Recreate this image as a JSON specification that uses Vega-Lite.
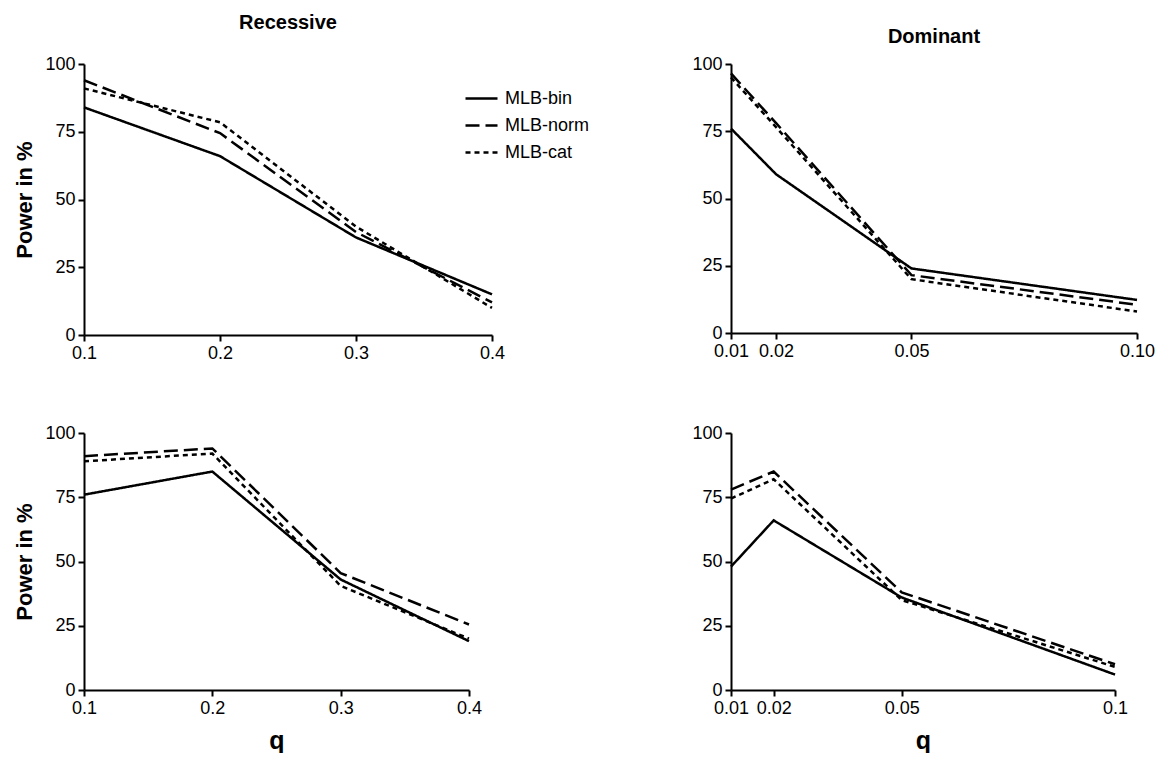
{
  "$schema": "https://vega.github.io/schema/vega-lite/v6.json",
  "background": "white",
  "padding": {"left": 13, "top": 13, "right": 0, "bottom": 0},
  "config": {
    "font": "Liberation Sans",
    "view": {"stroke": null},
    "axis": {
      "grid": false,
      "domainColor": "black",
      "domainWidth": 2,
      "tickColor": "black",
      "tickWidth": 2,
      "tickSize": 6,
      "labelColor": "black",
      "labelFont": "Liberation Sans",
      "labelFontSize": 18,
      "labelPadding": 3,
      "labelOverlap": false,
      "labelFlush": false,
      "titleColor": "black",
      "titleFont": "Liberation Sans",
      "titleFontWeight": "bold"
    },
    "title": {"font": "Liberation Sans", "fontSize": 20, "fontWeight": "bold", "color": "black"},
    "line": {"strokeWidth": 2.5, "color": "black"}
  },
  "datasets": {
    "power": [
      {"panel": "TL", "method": "MLB-bin", "q": 0.1, "power": 84},
      {"panel": "TL", "method": "MLB-bin", "q": 0.2, "power": 66},
      {"panel": "TL", "method": "MLB-bin", "q": 0.3, "power": 36},
      {"panel": "TL", "method": "MLB-bin", "q": 0.4, "power": 15},
      {"panel": "TL", "method": "MLB-norm", "q": 0.1, "power": 94},
      {"panel": "TL", "method": "MLB-norm", "q": 0.2, "power": 74.5},
      {"panel": "TL", "method": "MLB-norm", "q": 0.3, "power": 38},
      {"panel": "TL", "method": "MLB-norm", "q": 0.4, "power": 12},
      {"panel": "TL", "method": "MLB-cat", "q": 0.1, "power": 91},
      {"panel": "TL", "method": "MLB-cat", "q": 0.2, "power": 78.5},
      {"panel": "TL", "method": "MLB-cat", "q": 0.3, "power": 40},
      {"panel": "TL", "method": "MLB-cat", "q": 0.4, "power": 10},
      {"panel": "TR", "method": "MLB-bin", "q": 0.01, "power": 76},
      {"panel": "TR", "method": "MLB-bin", "q": 0.02, "power": 59},
      {"panel": "TR", "method": "MLB-bin", "q": 0.05, "power": 24},
      {"panel": "TR", "method": "MLB-bin", "q": 0.10, "power": 12.3},
      {"panel": "TR", "method": "MLB-norm", "q": 0.01, "power": 96.5},
      {"panel": "TR", "method": "MLB-norm", "q": 0.02, "power": 78},
      {"panel": "TR", "method": "MLB-norm", "q": 0.05, "power": 21.5},
      {"panel": "TR", "method": "MLB-norm", "q": 0.10, "power": 10.5},
      {"panel": "TR", "method": "MLB-cat", "q": 0.01, "power": 95},
      {"panel": "TR", "method": "MLB-cat", "q": 0.02, "power": 76.5},
      {"panel": "TR", "method": "MLB-cat", "q": 0.05, "power": 20},
      {"panel": "TR", "method": "MLB-cat", "q": 0.10, "power": 8},
      {"panel": "BL", "method": "MLB-bin", "q": 0.1, "power": 76},
      {"panel": "BL", "method": "MLB-bin", "q": 0.2, "power": 85},
      {"panel": "BL", "method": "MLB-bin", "q": 0.3, "power": 43},
      {"panel": "BL", "method": "MLB-bin", "q": 0.4, "power": 19},
      {"panel": "BL", "method": "MLB-norm", "q": 0.1, "power": 91},
      {"panel": "BL", "method": "MLB-norm", "q": 0.2, "power": 94},
      {"panel": "BL", "method": "MLB-norm", "q": 0.3, "power": 45.5},
      {"panel": "BL", "method": "MLB-norm", "q": 0.4, "power": 25.5},
      {"panel": "BL", "method": "MLB-cat", "q": 0.1, "power": 89},
      {"panel": "BL", "method": "MLB-cat", "q": 0.2, "power": 92},
      {"panel": "BL", "method": "MLB-cat", "q": 0.3, "power": 40.5},
      {"panel": "BL", "method": "MLB-cat", "q": 0.4, "power": 20},
      {"panel": "BR", "method": "MLB-bin", "q": 0.01, "power": 48},
      {"panel": "BR", "method": "MLB-bin", "q": 0.02, "power": 66},
      {"panel": "BR", "method": "MLB-bin", "q": 0.05, "power": 36},
      {"panel": "BR", "method": "MLB-bin", "q": 0.1, "power": 6},
      {"panel": "BR", "method": "MLB-norm", "q": 0.01, "power": 78},
      {"panel": "BR", "method": "MLB-norm", "q": 0.02, "power": 85},
      {"panel": "BR", "method": "MLB-norm", "q": 0.05, "power": 38},
      {"panel": "BR", "method": "MLB-norm", "q": 0.1, "power": 10},
      {"panel": "BR", "method": "MLB-cat", "q": 0.01, "power": 74.5},
      {"panel": "BR", "method": "MLB-cat", "q": 0.02, "power": 82},
      {"panel": "BR", "method": "MLB-cat", "q": 0.05, "power": 35},
      {"panel": "BR", "method": "MLB-cat", "q": 0.1, "power": 9}
    ]
  },
  "data": {"name": "power"},
  "bounds": "flush",
  "columns": 2,
  "spacing": {"row": 98, "column": 239},
  "concat": [
    {
      "title": {"text": "Recessive", "offset": 22},
      "width": 408, "height": 271,
      "transform": [{"filter": "datum.panel === 'TL'"}],
      "mark": {"type": "line"},
      "encoding": {
        "x": {"field": "q", "type": "quantitative", "scale": {"domain": [0.1, 0.4], "nice": false, "zero": false},
              "axis": {"values": [0.1, 0.2, 0.3, 0.4], "format": ".1f", "title": null}},
        "y": {"field": "power", "type": "quantitative", "scale": {"domain": [0, 100], "nice": false},
              "axis": {"values": [0, 25, 50, 75, 100], "title": "Power in %", "titleFontSize": 22, "titlePadding": 8}},
        "strokeDash": {"field": "method", "type": "nominal",
              "scale": {"domain": ["MLB-bin", "MLB-norm", "MLB-cat"], "range": [[1, 0], [14, 6], [5, 4]]},
              "legend": {"title": null, "orient": "none", "legendX": 380, "legendY": 17,
                         "symbolType": "stroke", "symbolSize": 1024, "symbolStrokeWidth": 2.5, "symbolStrokeColor": "black",
                         "labelFontSize": 18, "labelColor": "black", "labelFont": "Liberation Sans", "rowPadding": 0, "labelOffset": 6}},
        "order": {"field": "q", "type": "quantitative"}
      }
    },
    {
      "title": {"text": "Dominant", "offset": 8},
      "width": 406, "height": 269,
      "transform": [{"filter": "datum.panel === 'TR'"}],
      "mark": {"type": "line"},
      "encoding": {
        "x": {"field": "q", "type": "quantitative", "scale": {"domain": [0.01, 0.1], "nice": false, "zero": false},
              "axis": {"values": [0.01, 0.02, 0.05, 0.1], "format": ".2f", "title": null}},
        "y": {"field": "power", "type": "quantitative", "scale": {"domain": [0, 100], "nice": false},
              "axis": {"values": [0, 25, 50, 75, 100], "title": null}},
        "strokeDash": {"field": "method", "type": "nominal",
              "scale": {"domain": ["MLB-bin", "MLB-norm", "MLB-cat"], "range": [[1, 0], [14, 6], [5, 4]]},
              "legend": null},
        "order": {"field": "q", "type": "quantitative"}
      }
    },
    {
      "width": 385, "height": 257,
      "transform": [{"filter": "datum.panel === 'BL'"}],
      "mark": {"type": "line"},
      "encoding": {
        "x": {"field": "q", "type": "quantitative", "scale": {"domain": [0.1, 0.4], "nice": false, "zero": false},
              "axis": {"values": [0.1, 0.2, 0.3, 0.4], "format": ".1f", "title": "q", "titleFontSize": 25, "titlePadding": 11}},
        "y": {"field": "power", "type": "quantitative", "scale": {"domain": [0, 100], "nice": false},
              "axis": {"values": [0, 25, 50, 75, 100], "title": "Power in %", "titleFontSize": 22, "titlePadding": 8}},
        "strokeDash": {"field": "method", "type": "nominal",
              "scale": {"domain": ["MLB-bin", "MLB-norm", "MLB-cat"], "range": [[1, 0], [14, 6], [5, 4]]},
              "legend": null},
        "order": {"field": "q", "type": "quantitative"}
      }
    },
    {
      "width": 384, "height": 257,
      "transform": [{"filter": "datum.panel === 'BR'"}],
      "mark": {"type": "line"},
      "encoding": {
        "x": {"field": "q", "type": "quantitative", "scale": {"domain": [0.01, 0.1], "nice": false, "zero": false},
              "axis": {"values": [0.01, 0.02, 0.05, 0.1], "format": "~g", "title": "q", "titleFontSize": 25, "titlePadding": 11}},
        "y": {"field": "power", "type": "quantitative", "scale": {"domain": [0, 100], "nice": false},
              "axis": {"values": [0, 25, 50, 75, 100], "title": null}},
        "strokeDash": {"field": "method", "type": "nominal",
              "scale": {"domain": ["MLB-bin", "MLB-norm", "MLB-cat"], "range": [[1, 0], [14, 6], [5, 4]]},
              "legend": null},
        "order": {"field": "q", "type": "quantitative"}
      }
    }
  ]
}
